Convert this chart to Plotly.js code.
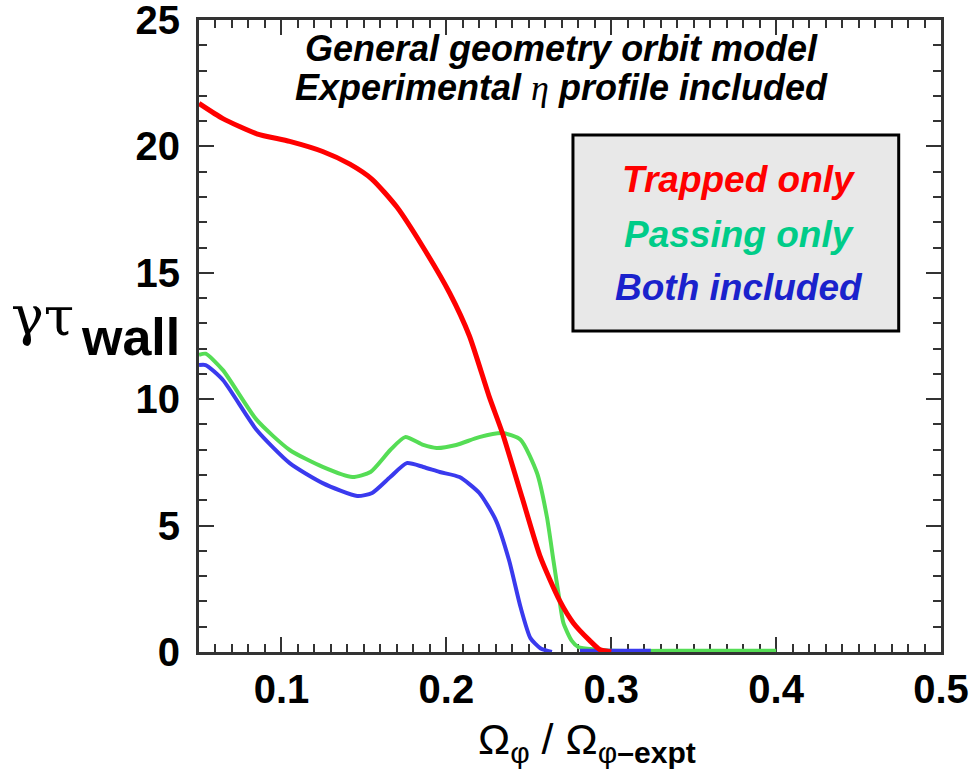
<!DOCTYPE html>
<html>
<head>
<meta charset="utf-8">
<script src="https://cdn.plot.ly/plotly-3.0.1.min.js"></script>
<style>html,body{margin:0;padding:0;background:#fff;}#chart{width:973px;height:774px;}</style>
</head>
<body>
<div id="chart"></div>
<script>
// ---- data ----
const trappedX = [0.05, 0.0645, 0.085, 0.105, 0.125, 0.1415, 0.155, 0.17, 0.186, 0.202, 0.214, 0.226, 0.234, 0.246, 0.257, 0.2685, 0.277, 0.287, 0.293, 0.3];
const trappedY = [21.7, 21.1, 20.5, 20.2, 19.8, 19.3, 18.7, 17.6, 16.0, 14.2, 12.5, 10.1, 8.66, 6.1, 3.76, 2.06, 1.15, 0.45, 0.1, 0.0];

const passingX = [0.05, 0.054, 0.0645, 0.085, 0.105, 0.125, 0.143, 0.154, 0.166, 0.175, 0.186, 0.194, 0.206, 0.22, 0.234, 0.245, 0.255, 0.261, 0.265, 0.2685, 0.271, 0.276, 0.28, 0.29, 0.3, 0.35, 0.4];
const passingY = [11.75, 11.8, 11.15, 9.18, 7.99, 7.32, 6.92, 7.12, 7.99, 8.5, 8.19, 8.07, 8.19, 8.5, 8.66, 8.4, 7.08, 5.34, 3.6, 2.1, 1.15, 0.45, 0.2, 0.1, 0.05, 0.05, 0.05];

const bothX = [0.05, 0.054, 0.0645, 0.085, 0.105, 0.125, 0.146, 0.155, 0.166, 0.176, 0.186, 0.196, 0.208, 0.22, 0.23, 0.238, 0.245, 0.251, 0.257, 0.264, null, 0.281, 0.324];
const bothY = [11.35, 11.35, 10.76, 8.78, 7.47, 6.68, 6.17, 6.29, 6.92, 7.47, 7.32, 7.12, 6.92, 6.29, 5.22, 3.64, 1.78, 0.55, 0.15, 0.0, null, 0.05, 0.05];

const seriesNames = ["Trapped only", "Passing only", "Both included"];
const lineColors = ["#ff0000", "#55dd55", "#3a3aee"];
const labelColors = ["#ff0000", "#00cc88", "#1a22cc"];
const titleLines = ["General geometry orbit model", "Experimental <span style=\"font-family:'Liberation Serif',serif;font-style:italic;font-weight:normal\">η</span> profile included"];

const sans = "Liberation Sans, Arial, sans-serif";
const serif = "DejaVu Serif, Liberation Serif, serif";

const xs = [trappedX, passingX, bothX];
const ys = [trappedY, passingY, bothY];
const widths = [5, 4, 4];
const order = [1, 2, 0];
const traces = order.map(i => ({
  x: xs[i], y: ys[i], name: seriesNames[i], type: 'scatter', mode: 'lines',
  line: {color: lineColors[i], width: widths[i], shape: 'spline', smoothing: 0.6},
  connectgaps: false, showlegend: false, hoverinfo: 'skip'
}));
// invisible trace so the mirrored (top/right) tick axes are drawn
traces.push({x: trappedX, y: trappedY, xaxis: 'x2', yaxis: 'y2', type: 'scatter', mode: 'lines',
  line: {width: 0, color: 'rgba(0,0,0,0)'}, showlegend: false, hoverinfo: 'skip'});

const tickStyle = {ticks: 'inside', ticklen: 15, tickwidth: 2, tickcolor: '#333'};
const labelFont = {family: sans, size: 40, color: '#000', weight: 'bold'};

const legendY = [0.747, 0.660, 0.576];
const annotations = [];
seriesNames.forEach((n, i) => annotations.push({
  xref: 'paper', yref: 'paper', x: 0.728, y: legendY[i], xanchor: 'center', yanchor: 'middle',
  text: '<b><i>' + n + '</i></b>', showarrow: false,
  font: {family: sans, size: 37, color: labelColors[i]}
}));
annotations.push({xref:'paper', yref:'paper', x:0.489, y:0.955, xanchor:'center', yanchor:'middle',
  text:'<b><i>'+titleLines[0]+'</i></b>', showarrow:false, font:{family:sans, size:36, color:'#000'}});
annotations.push({xref:'paper', yref:'paper', x:0.489, y:0.893, xanchor:'center', yanchor:'middle',
  text:'<b><i>'+titleLines[1]+'</i></b>', showarrow:false, font:{family:sans, size:36, color:'#000'}});
// y-axis title
annotations.push({xref:'paper', yref:'paper', x:-0.256, y:0.532, xanchor:'left', yanchor:'middle',
  text:'γτ', showarrow:false, font:{family:serif, size:55, color:'#000'}});
annotations.push({xref:'paper', yref:'paper', x:-0.162, y:0.499, xanchor:'left', yanchor:'middle',
  text:'<b>wall</b>', showarrow:false, font:{family:sans, size:52, color:'#000'}});
// x-axis title
annotations.push({xref:'paper', yref:'paper', x:0.523, y:-0.143, xanchor:'center', yanchor:'middle',
  text:"Ω<sub>φ</sub> / Ω<sub>φ<b>–expt</b></sub>", showarrow:false, font:{family:sans, size:43, color:'#000'}});

const layout = {
  width: 973, height: 774,
  margin: {l: 199, r: 32, t: 20, b: 122},
  paper_bgcolor: '#fff', plot_bgcolor: '#fff',
  showlegend: false,
  xaxis: Object.assign({}, tickStyle, {
    range: [0.05, 0.5], tick0: 0, dtick: 0.1, tickformat: '.1f',
    showline: true, linecolor: '#333', linewidth: 3, mirror: true,
    showgrid: false, zeroline: false, layer: 'below traces', tickfont: labelFont,
    ticklabeloverflow: 'allow',
    minor: {dtick: 0.01, tick0: 0, ticks: 'inside', ticklen: 8, tickwidth: 2, tickcolor: '#333'}
  }),
  yaxis: Object.assign({}, tickStyle, {
    range: [0, 25], tick0: 0, dtick: 5, ticklabelstandoff: 8,
    showline: true, linecolor: '#333', linewidth: 3, mirror: true,
    showgrid: false, zeroline: false, layer: 'below traces', tickfont: labelFont,
    ticklabeloverflow: 'allow',
    minor: {dtick: 1, tick0: 0, ticks: 'inside', ticklen: 8, tickwidth: 2, tickcolor: '#333'}
  }),
  xaxis2: Object.assign({}, tickStyle, {
    overlaying: 'x', side: 'top', range: [0.05, 0.5], tick0: 0, dtick: 0.1,
    showticklabels: false, showline: false, showgrid: false, zeroline: false,
    minor: {dtick: 0.01, tick0: 0, ticks: 'inside', ticklen: 8, tickwidth: 2, tickcolor: '#333'}
  }),
  yaxis2: Object.assign({}, tickStyle, {
    overlaying: 'y', side: 'right', range: [0, 25], tick0: 0, dtick: 5,
    showticklabels: false, showline: false, showgrid: false, zeroline: false,
    minor: {dtick: 1, tick0: 0, ticks: 'inside', ticklen: 8, tickwidth: 2, tickcolor: '#333'}
  }),
  shapes: [{type: 'rect', xref: 'paper', yref: 'paper', x0: 0.504, x1: 0.943, y0: 0.508, y1: 0.818,
    fillcolor: '#e8e8e8', line: {color: '#000', width: 3}, layer: 'above'}],
  annotations: annotations
};

Plotly.newPlot('chart', traces, layout, {staticPlot: true, displayModeBar: false});
</script>
</body>
</html>
